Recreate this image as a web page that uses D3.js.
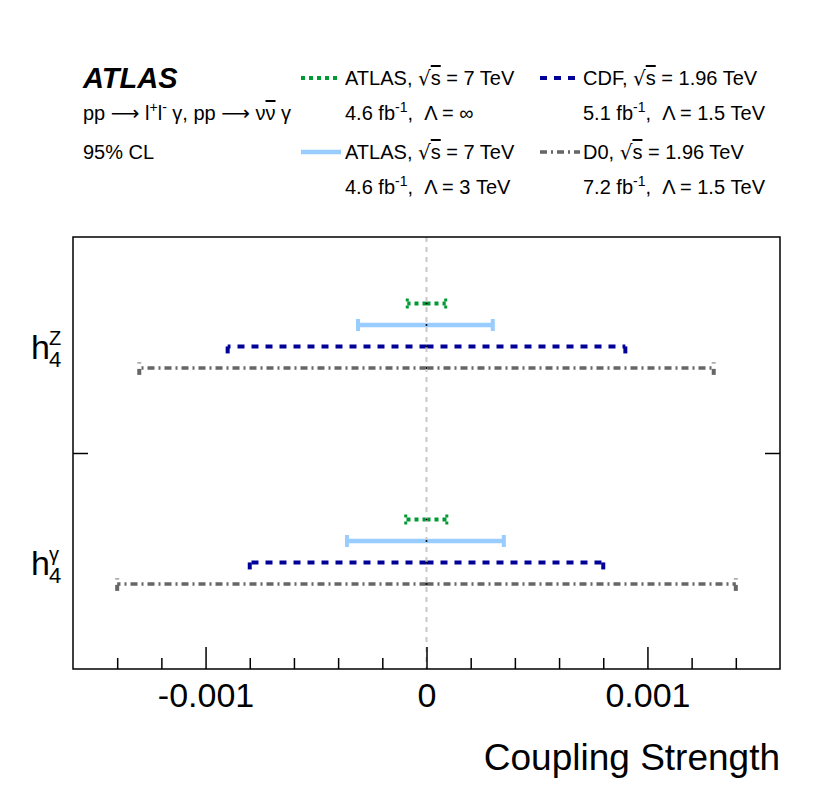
<!DOCTYPE html>
<html><head><meta charset="utf-8">
<script src="https://cdn.jsdelivr.net/npm/d3@7"></script>
<style>
body{margin:0;background:#fff}
text{font-family:"Liberation Sans",Arial,Helvetica,sans-serif;fill:#000;white-space:pre}
</style>
</head><body>
<svg id="chart" width="822" height="798"></svg>
<script>
// ---------- data ----------
const categories = ["h4Z", "h4γ"];
const seriesKeys = ["atlasInf", "atlas3", "cdf", "d0"];
const atlasInfLow  = [-0.000087, -0.000094];
const atlasInfHigh = [ 0.000087,  0.000092];
const atlas3Low    = [-0.00031, -0.00036];
const atlas3High   = [ 0.00030,  0.00035];
const cdfLow       = [-0.0009, -0.0008];
const cdfHigh      = [ 0.0009,  0.0008];
const d0Low        = [-0.0013, -0.0014];
const d0High       = [ 0.0013,  0.0014];
const centralValue = [0, 0];
const xMajorTicks = [-0.001, 0, 0.001];
const xTickLabels = ["-0.001", "0", "0.001"];
const xMinorTicks = [-0.0014,-0.0012,-0.0008,-0.0006,-0.0004,-0.0002,0.0002,0.0004,0.0006,0.0008,0.0012,0.0014];

const lows  = {atlasInf: atlasInfLow, atlas3: atlas3Low, cdf: cdfLow, d0: d0Low};
const highs = {atlasInf: atlasInfHigh, atlas3: atlas3High, cdf: cdfHigh, d0: d0High};

// ---------- styles ----------
const style = {
  atlasInf: {color: "#009933", width: 4, dash: "4,4"},
  atlas3:   {color: "#99ccff", width: 4.5, dash: null},
  cdf:      {color: "#000099", width: 4, dash: "7,7"},
  d0:       {color: "#666666", width: 3.5, dash: "7,4,2,4"}
};

(function () {
const svg = d3.select("#chart");
const pL = 73, pR = 780, pT = 237, pB = 669;

const x = d3.scaleLinear().domain([-0.0016, 0.0016]).range([pL, pR]);
const yBand = d3.scaleBand().domain(categories).range([pT, pB]);
const inner = d3.scalePoint().domain(seriesKeys).range([0.308, 0.606]);
const yRow = (cat, key) => yBand(cat) + inner(key) * yBand.bandwidth();

const rows = [];
categories.forEach((c, i) => seriesKeys.forEach(k => rows.push({cat: c, key: k, lo: lows[k][i], hi: highs[k][i], c0: centralValue[i]})));

const g = svg.append("g");
rows.forEach(r => {
  const s = style[r.key];
  const y = yRow(r.cat, r.key);
  [r.lo, r.hi].forEach(end => {
    g.append("line")
      .attr("x1", x(r.c0)).attr("x2", x(end)).attr("y1", y).attr("y2", y)
      .attr("stroke", s.color).attr("stroke-width", s.width)
      .attr("stroke-dasharray", s.dash);
    let capTop = -6, capBot = 6, capW = 4;
    if (r.key === "atlasInf") { capTop = -5; capBot = 5; capW = 3; }
    if (r.key === "cdf") { capTop = 0; capBot = 7; capW = 4; }
    if (r.key === "d0") { capTop = 1; capBot = 7; capW = 4; }
    g.append("line")
      .attr("x1", x(end)).attr("x2", x(end)).attr("y1", y + capTop).attr("y2", y + capBot)
      .attr("stroke", s.color).attr("stroke-width", capW)
      .attr("stroke-dasharray", r.key === "atlasInf" ? "3,4" : null);
    if (r.key === "d0") {
      g.append("line")
        .attr("x1", x(end) - 2).attr("x2", x(end) + 2).attr("y1", y - 5).attr("y2", y - 5)
        .attr("stroke", "#888").attr("stroke-width", 1.2);
    }
  });
});

svg.append("line")
  .attr("x1", x(0)).attr("x2", x(0)).attr("y1", pT).attr("y2", pB)
  .attr("stroke", "#c8c8c8").attr("stroke-width", 2).attr("stroke-dasharray", "5,5");

rows.forEach(r => {
  svg.append("circle").attr("cx", x(r.c0)).attr("cy", yRow(r.cat, r.key)).attr("r", 1).attr("fill", "#000");
});

svg.append("rect").attr("x", pL).attr("y", pT).attr("width", pR - pL).attr("height", pB - pT)
  .attr("fill", "none").attr("stroke", "#000").attr("stroke-width", 1.5);

const axMajor = svg.append("g").attr("transform", `translate(0,${pB})`)
  .call(d3.axisBottom(x).tickValues(xMajorTicks).tickSize(-22).tickPadding(14)
    .tickFormat((d, i) => xTickLabels[i]));
axMajor.select(".domain").remove();
axMajor.selectAll(".tick line").attr("stroke", "#000").attr("stroke-width", 1.5);
axMajor.selectAll(".tick text").attr("font-size", 34).attr("font-family", "Liberation Sans, Arial, sans-serif").attr("fill", "#000");

const axMinor = svg.append("g").attr("transform", `translate(0,${pB})`)
  .call(d3.axisBottom(x).tickValues(xMinorTicks).tickSize(-11).tickFormat(""));
axMinor.select(".domain").remove();
axMinor.selectAll(".tick line").attr("stroke", "#000").attr("stroke-width", 1.5);

const yLin = d3.scaleLinear().domain([0, 2]).range([pB, pT]);
[[d3.axisLeft(yLin), pL], [d3.axisRight(yLin), pR]].forEach(([ax, tx]) => {
  const a = svg.append("g").attr("transform", `translate(${tx},0)`)
    .call(ax.tickValues([1]).tickSize(-15).tickFormat(""));
  a.select(".domain").remove();
  a.selectAll(".tick line").attr("stroke", "#000").attr("stroke-width", 1.5);
});

const catSup = {"h4Z": "Z", "h4γ": "γ"};
categories.forEach(c => {
  const cy = yBand(c) + yBand.bandwidth() / 2;
  svg.append("text").attr("x", 31).attr("y", cy + 14).attr("font-size", 34).text("h");
  svg.append("text").attr("x", 49).attr("y", cy).attr("font-size", 20).text(catSup[c]);
  svg.append("text").attr("x", 49).attr("y", cy + 22).attr("font-size", 22).text("4");
});

svg.append("text").attr("x", pR).attr("y", 770).attr("text-anchor", "end")
  .attr("font-size", 37).text("Coupling Strength");

svg.append("text").attr("x", 83).attr("y", 88).attr("font-size", 29)
  .attr("font-weight", "bold").attr("font-style", "italic").text("ATLAS");

const symFont = "DejaVu Sans, sans-serif";
const t1 = svg.append("text").attr("x", 83).attr("y", 120).attr("font-size", 20);
t1.append("tspan").text("pp ");
t1.append("tspan").attr("font-family", symFont).text("⟶");
t1.append("tspan").text(" l");
t1.append("tspan").attr("dy", -8).attr("font-size", 14).text("+");
t1.append("tspan").attr("dy", 8).text("l");
t1.append("tspan").attr("dy", -8).attr("font-size", 14).text("-");
t1.append("tspan").attr("dy", 8).text(" γ, pp ");
t1.append("tspan").attr("font-family", symFont).text("⟶");
t1.append("tspan").text(" ν");
t1.append("tspan").style("text-decoration", "overline").text("ν");
t1.append("tspan").text(" γ");

svg.append("text").attr("x", 83).attr("y", 159).attr("font-size", 20).text("95% CL");

const legendItems = [
  {key: "atlasInf", lx: 301, tx: 345, ly: 78, l1: "ATLAS, ", e: "7 TeV", lum: "4.6", lam: "∞"},
  {key: "atlas3", lx: 301, tx: 345, ly: 152, l1: "ATLAS, ", e: "7 TeV", lum: "4.6", lam: "3 TeV"},
  {key: "cdf", lx: 540, tx: 583, ly: 78, l1: "CDF, ", e: "1.96 TeV", lum: "5.1", lam: "1.5 TeV"},
  {key: "d0", lx: 540, tx: 583, ly: 152, l1: "D0, ", e: "1.96 TeV", lum: "7.2", lam: "1.5 TeV"}
];
legendItems.forEach(it => {
  const s = style[it.key];
  svg.append("line").attr("x1", it.lx).attr("x2", it.lx + 40).attr("y1", it.ly).attr("y2", it.ly)
    .attr("stroke", s.color).attr("stroke-width", s.width).attr("stroke-dasharray", s.dash);
  const a = svg.append("text").attr("x", it.tx).attr("y", it.ly + 7).attr("font-size", 20);
  a.append("tspan").text(it.l1);
  a.append("tspan").attr("font-family", symFont).text("√");
  a.append("tspan").style("text-decoration", "overline").text("s");
  a.append("tspan").text(" = " + it.e);
  const b = svg.append("text").attr("x", it.tx).attr("y", it.ly + 42).attr("font-size", 20);
  b.append("tspan").text(it.lum + " fb");
  b.append("tspan").attr("dy", -8).attr("font-size", 14).text("-1");
  b.append("tspan").attr("dy", 8).text(",  Λ = " + it.lam);
});
})();
</script>
</body></html>
